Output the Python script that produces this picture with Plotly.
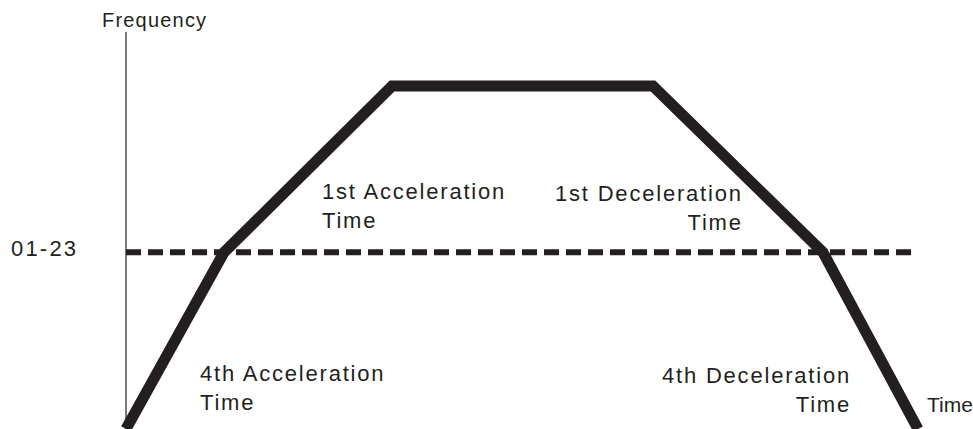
import plotly.graph_objects as go

# speed profile (time in arbitrary units, frequency in % of max)
time = [0, 0.98, 2.66, 5.27, 6.97, 7.92]
freq = [0, 51.5, 100, 100, 51.5, 0]

# switch level (parameter 01-23)
switch_time = [0, 7.91]
switch_freq = [51.5, 51.5]

labels = ['1st Acceleration<br>Time', '1st Deceleration<br>Time',
          '4th Acceleration<br>Time', '4th Deceleration<br>Time']

W, H = 973, 429
X0, XS = 126, 100.0   # px of time 0, px per time unit
Y0, YS = 429, 3.43    # px of freq 0, px per freq unit
INK = '#231f20'
FONT = 'Liberation Sans, Arial, sans-serif'


def px_x(p):
    return (p - X0) / XS


def px_y(p):
    return (Y0 - p) / YS


def spaced(txt, sp=1.8):
    return '<br>'.join('<span style="letter-spacing:%spx">%s</span>' % (sp, t)
                       for t in txt.split('<br>'))


fig = go.Figure()

# dashed switch line
fig.add_trace(go.Scatter(
    x=switch_time, y=switch_freq, mode='lines',
    line=dict(color=INK, width=6, dash='15px,7px'),
    hoverinfo='skip'
))

# trapezoid profile
fig.add_trace(go.Scatter(
    x=time, y=freq, mode='lines',
    line=dict(color=INK, width=11),
    hoverinfo='skip'
))

# frequency axis line
fig.add_shape(type='line', x0=0, x1=0, y0=px_y(429), y1=px_y(32),
              line=dict(color=INK, width=1.2), layer='below')

s = 22
ann = [
    # text, x px, y px (top of box), xanchor, align
    (labels[0], 320, 183 - 6, 'left', 'left'),
    (labels[1], 745, 185 - 6, 'right', 'right'),
    (labels[2], 198, 365 - 6, 'left', 'left'),
    (labels[3], 853, 367 - 6, 'right', 'right'),
]
for txt, x, y, xa, al in ann:
    fig.add_annotation(x=px_x(x), y=px_y(y), text=spaced(txt), showarrow=False,
                       xanchor=xa, yanchor='top', align=al,
                       font=dict(family=FONT, size=s, color=INK))

fig.add_annotation(x=px_x(100), y=px_y(20), text=spaced('Frequency', 1.2),
                   showarrow=False, xanchor='left', yanchor='middle',
                   font=dict(family=FONT, size=20, color=INK))
fig.add_annotation(x=px_x(9), y=px_y(248), text=spaced('01-23', 2.2),
                   showarrow=False, xanchor='left', yanchor='middle',
                   font=dict(family=FONT, size=s, color=INK))
fig.add_annotation(x=px_x(925), y=px_y(404), text='Time',
                   showarrow=False, xanchor='left', yanchor='middle',
                   font=dict(family=FONT, size=21, color=INK))

fig.update_layout(
    width=W, height=H,
    margin=dict(l=0, r=0, t=0, b=0),
    paper_bgcolor='white', plot_bgcolor='white',
    showlegend=False,
    xaxis=dict(range=[px_x(0), px_x(W)], visible=False, fixedrange=True),
    yaxis=dict(range=[px_y(H), px_y(0)], visible=False, fixedrange=True),
)

# drop the page's default body margin so the figure fills the window
fig.write_html("out.html", config={'displayModeBar': False},
               post_script="document.body.style.margin='0';")
